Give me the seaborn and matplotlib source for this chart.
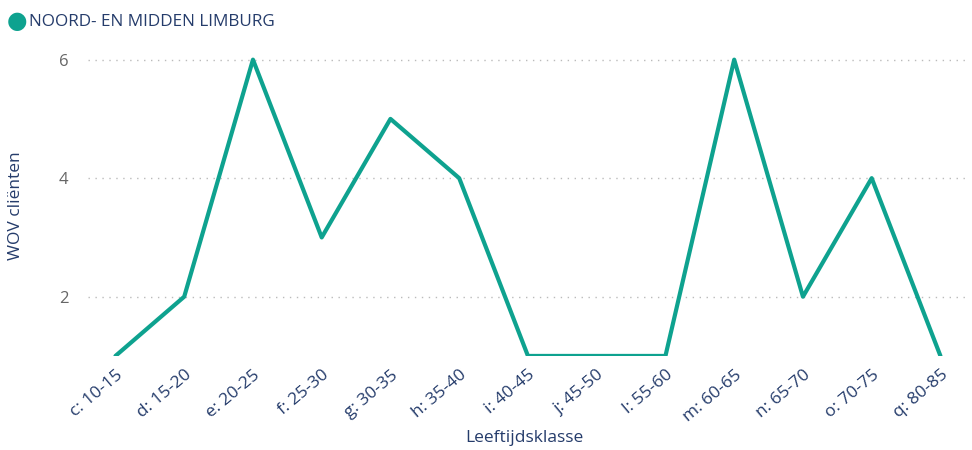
import matplotlib
matplotlib.use("Agg")
import matplotlib.pyplot as plt
import pandas as pd
import seaborn as sns

# data
klassen = ["c: 10-15", "d: 15-20", "e: 20-25", "f: 25-30", "g: 30-35", "h: 35-40",
           "i: 40-45", "j: 45-50", "l: 55-60", "m: 60-65", "n: 65-70", "o: 70-75", "q: 80-85"]
clienten = [1, 2, 6, 3, 5, 4, 1, 1, 1, 6, 2, 4, 1]
yticks = [2, 4, 6]
reeks = "NOORD- EN MIDDEN LIMBURG"

LINE = "#0ea28f"
TEXT = "#253c6b"

sns.set_style("white")
plt.rcParams['font.family'] = ['Open Sans', 'DejaVu Sans']

df = pd.DataFrame({"klasse": klassen, "clienten": clienten})
df["pos"] = range(len(df))

fig = plt.figure(figsize=(9.72, 4.5), dpi=100)
ax = fig.add_axes([0.0905, 0.209, 0.9025, 0.669])

sns.lineplot(data=df, x="pos", y="clienten", color=LINE, linewidth=3, ax=ax)

ax.set_xlim(-0.4, len(df) - 1 + 0.36)
ax.set_ylim(1, 6.08)
ax.set_yticks(yticks)
ax.set_xticks(df["pos"])
ax.set_xticklabels(klassen, rotation=40, ha="right", rotation_mode="anchor",
                   color=TEXT, fontsize=12.5)
ax.tick_params(axis="y", labelsize=12, labelcolor="#666666", length=0, pad=14)
ax.tick_params(axis="x", length=0, pad=8)
ax.yaxis.grid(True, linestyle=(0, (1, 4)), color="#bbbbbb", linewidth=1)
ax.xaxis.grid(False)
sns.despine(ax=ax, left=True, bottom=True, top=True, right=True)

ax.set_xlabel("Leeftijdsklasse", color=TEXT, fontsize=12.5)
ax.xaxis.set_label_coords(0.497, -0.245)
ax.set_ylabel("WOV cliënten", color=TEXT, fontsize=12.5)
ax.yaxis.set_label_coords(-0.073, 0.5)

# legend as in the reference: dot plus series name
fig.text(0.0180, 0.951, "\u25CF", color=LINE, fontsize=17, ha="center", va="center")
fig.text(0.0295, 0.951, reeks, color=TEXT, fontsize=12.3, ha="left", va="center")

fig.savefig("out.png", dpi=100)
